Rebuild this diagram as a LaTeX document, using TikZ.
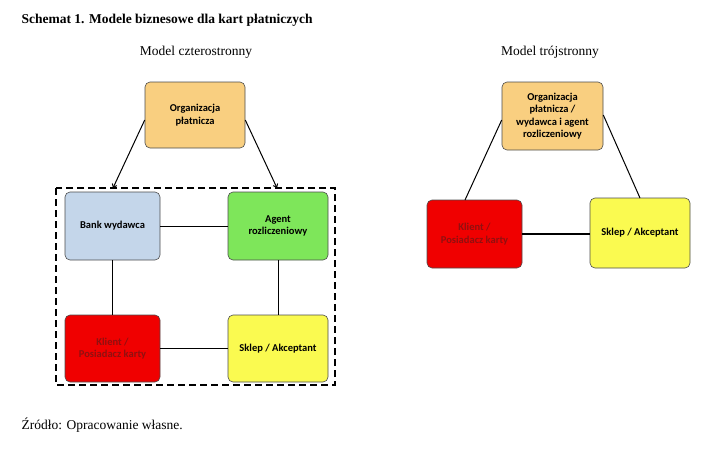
\documentclass[tikz,border=0pt]{standalone}
\usepackage{fontspec}
\setmainfont{Liberation Serif}
\newfontfamily\boxfont{Carlito}
\usetikzlibrary{arrows.meta}
\definecolor{cOrg}{HTML}{F9CF80}
\definecolor{cBank}{HTML}{C4D6EA}
\definecolor{cAgent}{HTML}{7EE65A}
\definecolor{cKlient}{HTML}{F00000}
\definecolor{cSklep}{HTML}{FAFA50}
\definecolor{cKtxt}{HTML}{901010}
\begin{document}
\begin{tikzpicture}[x=1pt,y=-1pt,
  box/.style={draw=black!70,line width=0.6pt,rounded corners=5pt,align=center,
    font=\boxfont\bfseries\fontsize{10.5}{12.5}\selectfont,inner sep=0pt},
  conn/.style={line width=1pt}]
\useasboundingbox (0,0) rectangle (704,448);
\node[anchor=west,font=\bfseries\fontsize{13.5}{15}\selectfont] (title) at (18,20) {Schemat 1. Modele biznesowe dla kart płatniczych};
\node[font=\fontsize{13.5}{15}\selectfont] (t1) at (196,52) {Model czterostronny};
\node[font=\fontsize{13.5}{15}\selectfont] (t2) at (550,52) {Model trójstronny};
\node[anchor=west,font=\fontsize{13.5}{15}\selectfont] (src) at (18,425) {Źródło: Opracowanie własne.};
% left
\node[box,fill=cOrg,minimum width=100,minimum height=66] (org) at (195,115) {Organizacja\\płatnicza};
\node[box,fill=cBank,minimum width=95,minimum height=68] (bank) at (112.5,226) {Bank wydawca};
\node[box,fill=cAgent,minimum width=100,minimum height=68] (agent) at (278,226) {Agent\\rozliczeniowy};
\node[box,fill=cKlient,text=cKtxt,minimum width=95,minimum height=67] (kl) at (112.5,348.5) {Klient /\\Posiadacz karty};
\node[box,fill=cSklep,minimum width=100,minimum height=67] (sk) at (278,348.5) {Sklep / Akceptant};
\draw[dashed,line width=1.3pt,dash pattern=on 7pt off 4pt] (56,188) rectangle (335,385);
\coordinate (a1) at (113,188);
\coordinate (a2) at (277,188);
\draw[conn,-{Straight Barb[length=3pt,width=5pt]}] (org.west) ++(0,5) -- (a1);
\draw[conn,-{Straight Barb[length=3pt,width=5pt]}] (org.east) ++(0,5) -- (a2);
\draw[conn] (bank) -- (agent);
\draw[conn] (bank) -- (kl);
\draw[conn] (agent) -- (sk);
\draw[conn] (kl) -- (sk);
% right
\node[box,fill=cOrg,minimum width=101,minimum height=68] (org2) at (552.5,116) {Organizacja\\płatnicza /\\wydawca i agent\\rozliczeniowy};
\node[box,fill=cKlient,text=cKtxt,minimum width=95,minimum height=68] (kl2) at (474.5,234) {Klient /\\Posiadacz karty};
\node[box,fill=cSklep,minimum width=100,minimum height=70] (sk2) at (640,233) {Sklep / Akceptant};
\draw[conn] (org2.west) ++(0,4) -- (465,200);
\draw[conn] (org2.east) ++(0,-1) -- (640,198);
\draw[line width=2pt] (kl2.east) -- (sk2.west |- kl2.east);
\end{tikzpicture}
\end{document}
